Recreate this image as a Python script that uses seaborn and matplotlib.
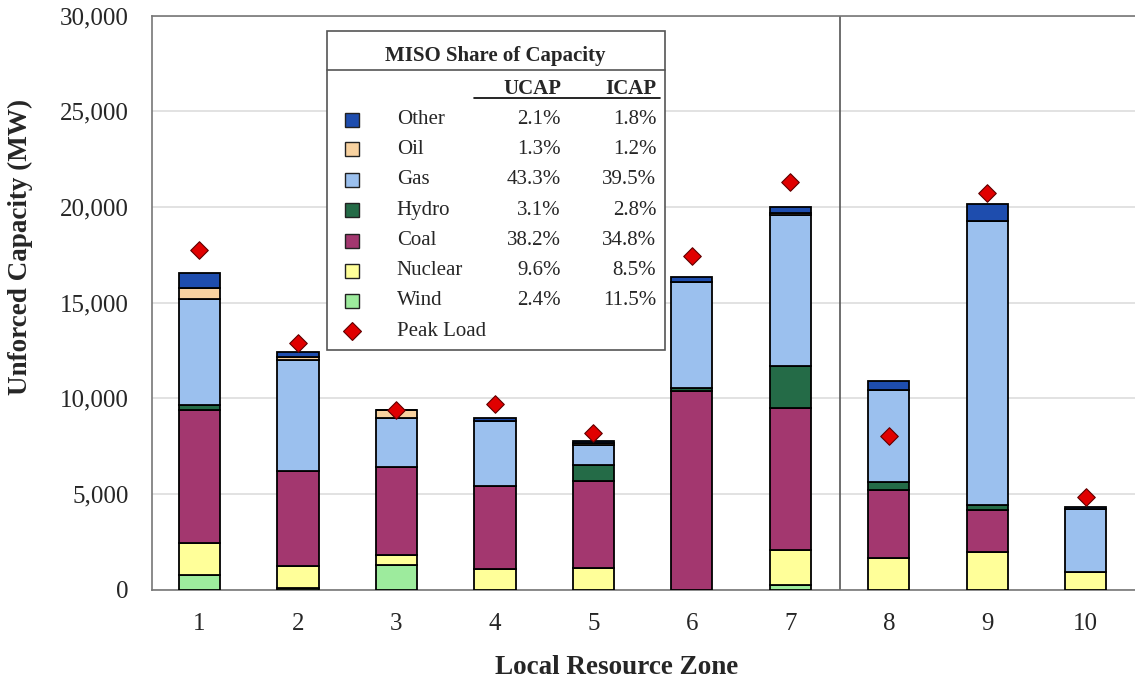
import numpy as np
import matplotlib
matplotlib.use("Agg")
import matplotlib.pyplot as plt
import seaborn as sns
from matplotlib.ticker import FuncFormatter

# capacity by local resource zone (MW), stacked bottom -> top
zones = [1, 2, 3, 4, 5, 6, 7, 8, 9, 10]
wind = [780, 80, 1307, 0, 0, 0, 260, 0, 0, 0]
nuclear = [1660, 1170, 520, 1080, 1130, 0, 1830, 1660, 1970, 925]
coal = [6970, 4930, 4585, 4320, 4535, 10370, 7410, 3570, 2210, 0]
hydro = [260, 0, 0, 0, 870, 170, 2170, 380, 265, 0]
gas = [5525, 5840, 2560, 3400, 1045, 5525, 7930, 4845, 14845, 3320]
oil = [575, 120, 435, 0, 100, 0, 100, 0, 0, 0]
other = [780, 265, 0, 175, 110, 280, 285, 435, 890, 60]
peak_load = [17770, 12900, 9410, 9705, 8190, 17420, 21290, 8050, 20735, 4845]

# legend table
fuel_names = ["Other", "Oil", "Gas", "Hydro", "Coal", "Nuclear", "Wind"]
ucap_share = ["2.1%", "1.3%", "43.3%", "3.1%", "38.2%", "9.6%", "2.4%"]
icap_share = ["1.8%", "1.2%", "39.5%", "2.8%", "34.8%", "8.5%", "11.5%"]

colors = {"Wind": "#9DEB9D", "Nuclear": "#FFFF99", "Coal": "#A3376F",
          "Hydro": "#246B47", "Gas": "#9BC0EE", "Oil": "#F8D2A0",
          "Other": "#1E4DAE"}

sns.set_style("white")
plt.rcParams["font.family"] = ["Liberation Serif", "DejaVu Serif"]

fig = plt.figure(figsize=(11.35, 6.81), dpi=100)
ax = fig.add_axes([0.134, 0.134, 0.866, 0.843])

layers = [("Wind", wind), ("Nuclear", nuclear), ("Coal", coal), ("Hydro", hydro),
          ("Gas", gas), ("Oil", oil), ("Other", other)]
bottom = np.zeros(len(zones))
for name, vals in layers:
    sns.barplot(x=zones, y=vals, bottom=bottom, color=colors[name], width=0.42,
                native_scale=True, errorbar=None, edgecolor="black",
                linewidth=1.3, saturation=1, ax=ax, zorder=3)
    bottom += np.array(vals)

sns.scatterplot(x=zones, y=peak_load, marker="D", s=80, color="#E00000",
                edgecolor="#600000", linewidth=0.8, ax=ax, zorder=5)

ax.axvline(7.5, color="#555555", lw=1.2, zorder=2)

ax.set_xlim(0.52, 10.5)
ax.set_ylim(0, 30000)
ax.set_xticks(zones)
ax.set_xticklabels([str(z) for z in zones])
ax.set_yticks(np.arange(0, 30001, 5000))
ax.yaxis.set_major_formatter(FuncFormatter(lambda v, p: f"{int(v):,}"))
ax.yaxis.grid(True, color="#dddddd", lw=1.2, zorder=0)
ax.set_axisbelow(True)
ax.tick_params(axis="both", length=0, labelsize=18)
ax.tick_params(axis="y", pad=17)
ax.tick_params(axis="x", pad=17)
for s in ["left", "top", "bottom"]:
    ax.spines[s].set_color("#777777")
    ax.spines[s].set_linewidth(1.2)
ax.spines["right"].set_visible(False)

ax.set_xlabel("Local Resource Zone", fontsize=19.5, fontweight="bold")
ax.set_ylabel("Unforced Capacity (MW)", fontsize=19.5, fontweight="bold")
ax.xaxis.set_label_coords(0.473, -0.113)
ax.yaxis.set_label_coords(-0.121, 0.598)

# legend table box
T = ax.transAxes
ax.add_patch(plt.Rectangle((0.178, 0.418), 0.344, 0.556, transform=T,
                           facecolor="white", edgecolor="#555555", lw=1.2, zorder=6))
ax.text(0.349, 0.930, "MISO Share of Capacity", transform=T, ha="center", va="center",
        fontsize=15, fontweight="bold", zorder=7)
ax.plot([0.178, 0.522], [0.905, 0.905], transform=T, color="#555555", lw=1.2, zorder=7)
ax.text(0.416, 0.873, "UCAP", transform=T, ha="right", va="center",
        fontsize=15, fontweight="bold", zorder=7)
ax.text(0.513, 0.873, "ICAP", transform=T, ha="right", va="center",
        fontsize=15, fontweight="bold", zorder=7)
ax.plot([0.328, 0.517], [0.856, 0.856], transform=T, color="black", lw=1.2, zorder=7)

row_y = [0.819, 0.767, 0.714, 0.661, 0.608, 0.556, 0.503]
for name, u, i, y in zip(fuel_names, ucap_share, icap_share, row_y):
    ax.plot([0.2035], [y], marker="s", ms=10, mfc=colors[name], mec="#222222",
            mew=1, transform=T, zorder=7)
    ax.text(0.249, y, name, transform=T, va="center", fontsize=15, zorder=7)
    ax.text(0.416, y, u, transform=T, ha="right", va="center", fontsize=15, zorder=7)
    ax.text(0.513, y, i, transform=T, ha="right", va="center", fontsize=15, zorder=7)
ax.plot([0.2035], [0.450], marker="D", ms=9, mfc="#E00000", mec="#600000",
        mew=0.8, transform=T, zorder=7)
ax.text(0.249, 0.450, "Peak Load", transform=T, va="center", fontsize=15, zorder=7)

fig.savefig("out.png", dpi=100)
